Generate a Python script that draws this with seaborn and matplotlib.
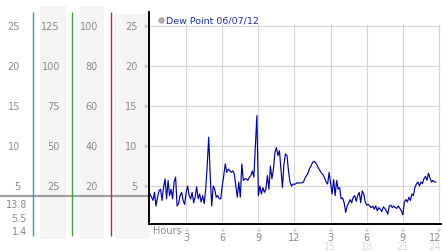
import numpy as np
import matplotlib
matplotlib.use("Agg")
import matplotlib.pyplot as plt
import seaborn as sns
from matplotlib.patches import Rectangle

sns.set_theme(style="white")
plt.rcParams['font.family'] = ['DejaVu Sans', 'Noto Sans CJK JP']

# ---------------- data ----------------
STEP_HOURS = 0.125
dew_point = [
    # 0 - 3.875 h
    4.0, 3.6, 3.2, 4.2, 2.5, 3.6, 4.4, 4.6, 3.2, 4.8, 5.9, 3.4, 5.7, 3.8, 4.6, 3.4,
    5.5, 6.1, 2.5, 2.8, 3.8, 4.2, 3.2, 2.7, 4.2, 5.0, 3.8, 3.4, 4.2, 2.9, 3.6, 4.9,
    # 4 - 7.875 h
    3.4, 4.0, 3.0, 3.8, 2.8, 4.6, 7.5, 11.1, 6.3, 2.5, 5.0, 4.6, 3.6, 3.8, 3.4, 3.4,
    5.0, 6.3, 7.75, 6.7, 7.1, 6.9, 6.7, 6.9, 6.5, 5.0, 3.6, 5.5, 3.6, 7.75, 5.7, 5.9,
    # 8 - 11.875 h
    5.9, 5.7, 6.1, 6.3, 6.9, 6.1, 10.0, 13.8, 3.8, 5.0, 4.0, 4.8, 4.2, 4.6, 6.3, 4.6,
    7.5, 5.9, 7.1, 9.2, 9.8, 8.8, 9.4, 7.1, 4.8, 7.75, 9.0, 8.8, 6.9, 5.5, 5.0, 5.25,
    # 12 - 15.875 h
    5.2, 5.3, 5.4, 5.35, 5.4, 5.4, 5.5, 6.0, 6.3, 6.6, 7.2, 7.5, 7.96, 8.1, 7.9, 7.6,
    7.2, 6.9, 6.6, 6.4, 6.0, 5.5, 5.25, 6.7, 5.3, 4.0, 5.8, 3.8, 5.7, 4.6, 4.8, 3.4,
    # 16 - 19.875 h
    3.5, 2.9, 1.7, 2.5, 2.9, 3.3, 2.9, 3.6, 3.8, 3.1, 3.8, 4.2, 2.9, 4.4, 4.0, 3.0,
    2.6, 2.7, 2.5, 2.3, 2.5, 2.1, 2.5, 1.9, 2.3, 2.1, 1.8, 2.4, 2.2, 1.9, 1.5, 2.5,
    # 20 - 23.75 h
    2.6, 2.3, 2.5, 2.3, 2.2, 2.5, 2.2, 1.9, 1.4, 3.0, 3.3, 3.0, 3.6, 3.2, 4.0, 3.8,
    4.8, 5.25, 5.5, 5.0, 5.5, 5.3, 5.9, 6.2, 5.7, 6.6, 6.0, 5.5, 5.7, 5.5, 5.5,
]
hours = np.arange(len(dew_point)) * STEP_HOURS

y_ticks = [5, 10, 15, 20, 25]
y_labels = ['5', '10', '15', '20', '25']
scale_a_labels = ['5', '10', '15', '20', '25']
scale_b_labels = ['25', '50', '75', '100', '125']
scale_c_labels = ['20', '40', '60', '80', '100']
x_ticks = [3, 6, 9, 12, 15, 18, 21, 24]
x_labels = ['3', '6', '9', '12', '3', '6', '9', '12']
x_day_ticks = [15, 18, 21, 24]
x_day_labels = ['15', '18', '21', '24']
legend_label = 'Dew Point 06/07/12'
x_axis_label = 'Hours'

# ---------------- figure ----------------
W, H = 442, 253
fig = plt.figure(figsize=(W / 100, H / 100), dpi=100)
fig.patch.set_facecolor('white')

bg = fig.add_axes([0, 0, 1, 1])
bg.set_xlim(0, W)
bg.set_ylim(H, 0)
bg.axis('off')

GRAY_TXT = '#8a8a8a'
# shaded scale columns
for x0, x1, y0 in [(40, 66, 7), (80, 104, 7), (115, 149, 15)]:
    bg.add_patch(Rectangle((x0, y0), x1 - x0, 240 - y0, color='#f4f4f4', lw=0, zorder=0))
# coloured scale lines
for xc, col in [(33.3, '#2f9fb8'), (72.3, '#3aa43a'), (111.3, '#b03434')]:
    bg.vlines(xc, 12.5, 237, color=col, lw=1.0, zorder=2)
# horizontal separator
bg.hlines(197, 0, 149, color='#a0a0a0', lw=1.6, zorder=1)

# main axes
left, right, top, bottom = 149, 441, 13, 225
ax = fig.add_axes([left / W, (H - bottom) / H, (right - left) / W, (bottom - top) / H])
ax.patch.set_alpha(0)
ax.set_zorder(3)
xmin, xmax = -1 / 12, 24 + 2 / 12
ymin, ymax = 0.25, 26.75
ax.set_xlim(xmin, xmax)
ax.set_ylim(ymin, ymax)

ax.hlines(y_ticks, xmin, xmax, color='#d6d6d6', lw=0.8, zorder=0)
ax.vlines(x_ticks, ymin, 25.3, color='#d6d6d6', lw=0.8, zorder=0)

sns.lineplot(x=hours, y=dew_point, ax=ax, color='#0000a8', lw=0.85, zorder=2)

for s in ['top', 'right']:
    ax.spines[s].set_visible(False)
for s in ['left', 'bottom']:
    ax.spines[s].set_color('black')
    ax.spines[s].set_linewidth(1.4)

ax.set_xticks([])
ax.set_yticks([])
ax.set_xlabel('')
ax.set_ylabel('')

# y tick labels (main scale) with marks
for v, lab in zip(y_ticks, y_labels):
    ax.annotate(lab, xy=(0, v), xycoords=('axes fraction', 'data'), xytext=(-11.5, 0),
                textcoords='offset pixels', ha='right', va='center', fontsize=7, color=GRAY_TXT)
    ax.annotate('※', xy=(0, v), xycoords=('axes fraction', 'data'), xytext=(-3.5, 0),
                textcoords='offset pixels', ha='center', va='center', fontsize=3.5, color='#a8a8a8')

# other scale columns
for labels, xr in [(scale_a_labels, 20), (scale_b_labels, 60), (scale_c_labels, 98)]:
    for v, lab in zip(y_ticks, labels):
        ax.annotate(lab, xy=(0, v), xycoords=('figure pixels', 'data'), xytext=(xr, 0),
                    textcoords='offset pixels', ha='right', va='center', fontsize=7, color=GRAY_TXT)

# x tick labels
last_tick = x_ticks[-1]
for t, lab in zip(x_ticks, x_labels):
    ax.annotate('※', xy=(t, 0), xycoords=('data', 'axes fraction'), xytext=(0, -5.5),
                textcoords='offset pixels', ha='center', va='center', fontsize=3.5, color='#a8a8a8')
    if t == last_tick:
        ax.annotate(lab, xy=(t, 0), xycoords=('data', 'axes fraction'), xytext=(2, -13.5),
                    textcoords='offset pixels', ha='right', va='center', fontsize=7, color=GRAY_TXT)
    else:
        ax.annotate(lab, xy=(t, 0), xycoords=('data', 'axes fraction'), xytext=(0, -13.5),
                    textcoords='offset pixels', ha='center', va='center', fontsize=7, color=GRAY_TXT)
for t, lab in zip(x_day_ticks, x_day_labels):
    if t == last_tick:
        ax.annotate(lab, xy=(t, 0), xycoords=('data', 'axes fraction'), xytext=(2, -22),
                    textcoords='offset pixels', ha='right', va='center', fontsize=7, color='#d8d8d8')
    else:
        ax.annotate(lab, xy=(t, 0), xycoords=('data', 'axes fraction'), xytext=(0, -22),
                    textcoords='offset pixels', ha='center', va='center', fontsize=7, color='#d8d8d8')
ax.annotate(x_axis_label, xy=(0, 0), xycoords='axes fraction', xytext=(4, -6.5),
            textcoords='offset pixels', ha='left', va='center', fontsize=7, color=GRAY_TXT)

# max / current / min summary
summary = [f"{max(dew_point):.1f}", f"{dew_point[-1]:.1f}", f"{min(dew_point):.1f}"]
for yy, txt in zip([205, 219, 232.5], summary):
    bg.text(27, yy, txt, ha='right', va='center', fontsize=7, color=GRAY_TXT)

# legend
bg.plot([160.5], [20.5], marker='o', ms=3.8, mfc='#b0b0b0', mec='#909090', mew=0.6, ls='none')
bg.text(166, 20.8, legend_label, ha='left', va='center', fontsize=6.8, color='#2030b0')

fig.savefig('out.png', dpi=100, facecolor='white')
